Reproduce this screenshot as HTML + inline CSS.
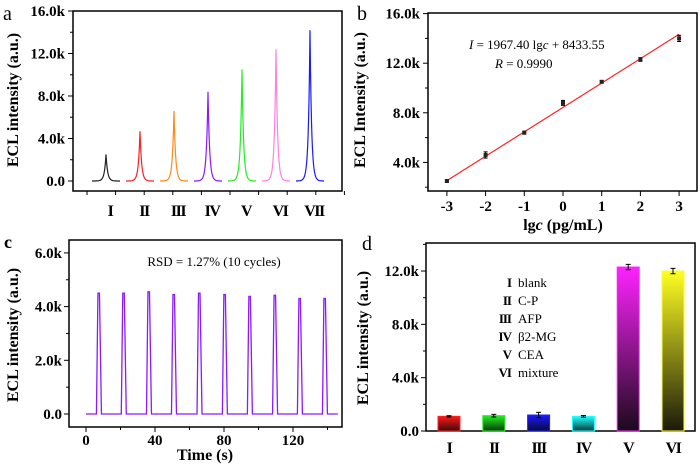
<!DOCTYPE html>
<html><head><meta charset="utf-8"><style>
body{margin:0;background:#fff;}
svg{display:block;font-family:"Liberation Serif",serif;}
.tl{font-weight:bold;font-size:15px;}
</style></head><body>
<svg id="s" width="700" height="465" viewBox="0 0 700 465">
<defs>
<linearGradient id="gr" x1="0" y1="0" x2="0" y2="1"><stop offset="0" stop-color="#ff1a1a"/><stop offset="1" stop-color="#3a0a0a"/></linearGradient>
<linearGradient id="gg" x1="0" y1="0" x2="0" y2="1"><stop offset="0" stop-color="#22ee22"/><stop offset="1" stop-color="#0a3a0a"/></linearGradient>
<linearGradient id="gb" x1="0" y1="0" x2="0" y2="1"><stop offset="0" stop-color="#1a1aff"/><stop offset="1" stop-color="#0a0a3a"/></linearGradient>
<linearGradient id="gc" x1="0" y1="0" x2="0" y2="1"><stop offset="0" stop-color="#22ffff"/><stop offset="1" stop-color="#0a3a3a"/></linearGradient>
<linearGradient id="gm" x1="0" y1="0" x2="0" y2="1"><stop offset="0" stop-color="#ff22ff"/><stop offset="1" stop-color="#1a0a1a"/></linearGradient>
<linearGradient id="gy" x1="0" y1="0" x2="0" y2="1"><stop offset="0" stop-color="#ffff22"/><stop offset="1" stop-color="#1a1a0a"/></linearGradient>
</defs>
</svg>
<script>
// ---- data ----
const aCats=["I","II","III","IV","V","VI","VII"];
const aPeaks=[2.5,4.7,6.6,8.4,10.5,12.4,14.2];
const aColors=["#222","#ff2020","#ff8a1a","#8a1aff","#22ee22","#ff80e0","#1a1aff"];
const aTicks=[0,4,8,12,16];
const bX=[-3,-2,-1,0,1,2,3];
const bY=[2.5,4.6,6.4,8.8,10.5,12.3,14.0];
const bErr=[0.08,0.25,0.12,0.2,0.1,0.15,0.25];
const bSlope=1.9674, bInt=8.43355;
const bTicks=[4,8,12,16];
const cTimes=[7.5,21.9,36.5,51,65.8,80.5,95,109.6,124,138.5];
const cHeights=[4.5,4.5,4.55,4.45,4.5,4.45,4.38,4.42,4.3,4.3];
const cYTicks=[0,2,4,6];
const cXTicks=[0,40,80,120];
const dCats=["I","II","III","IV","V","VI"];
const dVals=[1.1,1.15,1.2,1.1,12.3,12.0];
const dErr=[0.05,0.1,0.2,0.06,0.2,0.2];
const dFills=["url(#gr)","url(#gg)","url(#gb)","url(#gc)","url(#gm)","url(#gy)"];
const dStroke=["#ff2020","#22ee22","#2020ff","#22ffff","#ff22ff","#ffff22"];
const dLegend=["blank","C-P","AFP","β2-MG","CEA","mixture"];
const dTicks=[0,4,8,12];

const S=document.getElementById('s');const NS="http://www.w3.org/2000/svg";
function el(t,a,txt){const e=document.createElementNS(NS,t);for(const k in a)e.setAttribute(k,a[k]);if(txt!=null)e.textContent=txt;S.appendChild(e);return e;}
function line(x1,y1,x2,y2,c,w){return el('line',{x1,y1,x2,y2,stroke:c||'#000','stroke-width':w||1});}
function box(x,y,w,h,name){const r=el('rect',{x,y,width:w,height:h,fill:'none',stroke:'#000','stroke-width':1.5});}
function txt(x,y,s,a,name){const t=el('text',Object.assign({x,y},a),s);return t;}
const romanStyle='font-size:16px;letter-spacing:-1.5px';

// ---- panel a ----
const aY=v=>181-v*10.625;
const aX=i=>106+i*34;
box(73,11,269,180,'panel-a-frame');
aTicks.forEach(v=>{line(68,aY(v),73,aY(v));txt(65,aY(v)+5,v.toFixed(1)+(v?'k':''),{'text-anchor':'end',class:'tl'},'a-y-tick-label');});
[2,6,10,14].forEach(v=>line(70,aY(v),73,aY(v)));
for(let i=0;i<10;i++){const x=87+i*28.6;line(x,191,x,195);}
txt(18,100,'ECL intensity (a.u.)',{class:'tl',transform:'rotate(-90 18 100)','text-anchor':'middle',style:'font-size:16px'},'a-y-axis-title');
txt(3,20,'a',{style:'font-size:20px'},'panel-a-label');
aPeaks.forEach((p,i)=>{let d='';const cx=aX(i);for(let k=-14;k<=14;k+=0.5){const y=p*Math.exp(-Math.abs(k)/1.6);d+=(k==-14?'M':'L')+(cx+k).toFixed(1)+' '+aY(y).toFixed(1);}
 const pa=el('path',{d,fill:'none',stroke:aColors[i],'stroke-width':1.2});
 txt(cx+4,216,aCats[i],{'text-anchor':'middle',class:'tl',style:romanStyle},'a-x-label');});

// ---- panel b ----
const bXs=v=>563+v*38.7;
const bYs=v=>212-v*12.4;
box(428,13,269,178,'panel-b-frame');
bTicks.forEach(v=>{line(423,bYs(v),428,bYs(v));txt(420,bYs(v)+5,v.toFixed(1)+'k',{'text-anchor':'end',class:'tl'},'b-y-tick-label');});
[2,6,10,14].forEach(v=>line(425,bYs(v),428,bYs(v)));
bX.forEach(v=>{line(bXs(v),191,bXs(v),196);txt(bXs(v),211,String(v),{'text-anchor':'middle',class:'tl'},'b-x-tick-label');});
txt(365,100,'ECL Intensity (a.u.)',{class:'tl',transform:'rotate(-90 365 100)','text-anchor':'middle',style:'font-size:16px'},'b-y-axis-title');
const bt=txt(563,230,'',{'text-anchor':'middle',class:'tl',style:'font-size:16px'},'b-x-axis-title');bt.innerHTML='lg<tspan font-style="italic">c</tspan> (pg/mL)';
txt(357,20,'b',{style:'font-size:20px'},'panel-b-label');
const fl=el('line',{x1:bXs(-3),y1:bYs(bSlope*-3+bInt),x2:bXs(3),y2:bYs(bSlope*3+bInt),stroke:'#ff2020','stroke-width':1.2});
bX.forEach((v,i)=>{const x=bXs(v),y=bYs(bY[i]);line(x,bYs(bY[i]+bErr[i]),x,bYs(bY[i]-bErr[i]),'#000',1);line(x-2,bYs(bY[i]+bErr[i]),x+2,bYs(bY[i]+bErr[i]));line(x-2,bYs(bY[i]-bErr[i]),x+2,bYs(bY[i]-bErr[i]));
 const r=el('rect',{x:x-2,y:y-2,width:4,height:4,fill:'#222'});});
const eq=txt(469,49,'',{style:'font-size:13px'},'equation');eq.innerHTML='<tspan font-style="italic">I</tspan> = 1967.40 lg<tspan font-style="italic">c</tspan> + 8433.55';
const rr=txt(495,68,'',{style:'font-size:13px'},'r-value');rr.innerHTML='<tspan font-style="italic">R</tspan> = 0.9990';

// ---- panel c ----
const cX=v=>86+v*1.725;
const cY=v=>414-v*26.85;
box(69,240,273,187,'panel-c-frame');
cYTicks.forEach(v=>{line(64,cY(v),69,cY(v));txt(62,cY(v)+5,v.toFixed(1)+(v?'k':''),{'text-anchor':'end',class:'tl'},'c-y-tick-label');});
[1,3,5].forEach(v=>line(66,cY(v),69,cY(v)));
cXTicks.forEach(v=>{line(cX(v),427,cX(v),432);txt(cX(v),445,String(v),{'text-anchor':'middle',class:'tl'},'c-x-tick-label');});
[20,60,100,140].forEach(v=>line(cX(v),427,cX(v),430));
txt(205,460,'Time (s)',{'text-anchor':'middle',class:'tl',style:'font-size:16px'},'c-x-axis-title');
txt(18,335,'ECL intensity (a.u.)',{class:'tl',transform:'rotate(-90 18 335)','text-anchor':'middle',style:'font-size:16px'},'c-y-axis-title');
txt(4,248,'c',{class:'tl',style:'font-size:18px'},'panel-c-label');
txt(214,266,'RSD = 1.27% (10 cycles)',{'text-anchor':'middle',style:'font-size:13px'},'rsd-annotation');
{let d='M'+cX(0)+' '+cY(0);cTimes.forEach((t,i)=>{d+=' L'+(cX(t)-2.5)+' '+cY(0)+' L'+(cX(t)-1)+' '+cY(cHeights[i])+' L'+(cX(t)+0.5)+' '+cY(cHeights[i])+' L'+(cX(t)+2.5)+' '+cY(0);});d+=' L'+cX(146)+' '+cY(0);
const p=el('path',{d,fill:'none',stroke:'#8a1aff','stroke-width':1.3});}

// ---- panel d ----
const dX=i=>449+i*44.8;
const dY=v=>431-v*13.33;
box(426,243,269,188,'panel-d-frame');
dTicks.forEach(v=>{line(421,dY(v),426,dY(v));txt(419,dY(v)+5,v.toFixed(1)+(v?'k':''),{'text-anchor':'end',class:'tl'},'d-y-tick-label');});
[2,6,10,14].forEach(v=>line(423,dY(v),426,dY(v)));
txt(368,338,'ECL intensity (a.u.)',{class:'tl',transform:'rotate(-90 368 338)','text-anchor':'middle',style:'font-size:16px'},'d-y-axis-title');
txt(362,250,'d',{style:'font-size:20px'},'panel-d-label');
dVals.forEach((v,i)=>{const x=dX(i);const r=el('rect',{x:x-11,y:dY(v),width:22,height:dY(0)-dY(v),fill:dFills[i],stroke:dStroke[i],'stroke-width':1});
 const t=dY(v+dErr[i]),b=dY(v-dErr[i]);line(x,t,x,b);line(x-2.5,t,x+2.5,t);line(x-2.5,b,x+2.5,b);
 txt(x,453,dCats[i],{'text-anchor':'middle',class:'tl',style:romanStyle},'d-x-label');
 txt(511,287+i*18,dCats[i],{'text-anchor':'end',style:'font-size:13px;font-weight:bold;letter-spacing:-1px'},'legend-key');
 txt(518,287+i*18,dLegend[i],{style:'font-size:13px'},'legend-entry');});
</script>
</body></html>
